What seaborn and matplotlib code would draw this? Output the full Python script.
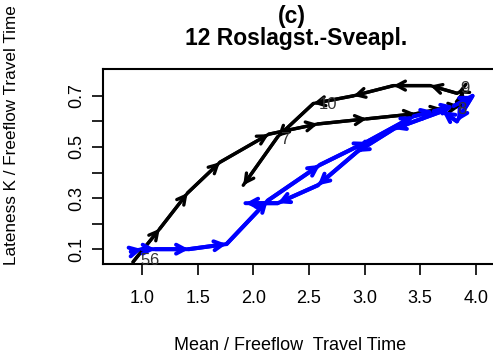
import numpy as np
import pandas as pd
import matplotlib
matplotlib.use("Agg")
import matplotlib.pyplot as plt
import seaborn as sns

# ---- data ----
black_x = [0.92, 1.16, 1.41, 1.70, 2.14, 2.58, 3.02, 3.46, 3.70, 3.86, 3.88, 3.83, 3.59, 3.26, 2.90, 2.54, 2.22, 1.91]
black_y = [0.05, 0.18, 0.32, 0.44, 0.55, 0.59, 0.61, 0.63, 0.65, 0.66, 0.72, 0.71, 0.74, 0.74, 0.70, 0.67, 0.54, 0.35]
blue_x = [0.90, 1.00, 1.12, 1.42, 1.76, 2.13, 2.60, 3.02, 3.44, 3.62, 3.80, 3.97, 3.83, 3.70, 3.26, 2.93, 2.58, 2.22, 1.93]
blue_y = [0.09, 0.10, 0.10, 0.10, 0.12, 0.29, 0.43, 0.52, 0.62, 0.64, 0.66, 0.70, 0.60, 0.64, 0.57, 0.48, 0.35, 0.28, 0.28]
hour_labels = ["5", "6", "7", "8", "9", "10"]
hour_x = [1.03, 1.11, 2.28, 3.87, 3.90, 2.67]
hour_y = [0.055, 0.055, 0.53, 0.645, 0.73, 0.665]
x_ticks = [1.0, 1.5, 2.0, 2.5, 3.0, 3.5, 4.0]
y_ticks = [0.1, 0.2, 0.3, 0.4, 0.5, 0.6, 0.7]
y_ticklabels = ["0.1", "", "0.3", "", "0.5", "", "0.7"]
title_top = "(c)"
title_main = "12 Roslagst.-Sveapl."
xlabel = "Mean / Freeflow  Travel Time"
ylabel = "Lateness K / Freeflow Travel Time"

sns.set_style("white")
plt.rcParams['font.family'] = ['Liberation Sans', 'DejaVu Sans']
plt.rcParams['text.color'] = 'black'
plt.rcParams['xtick.color'] = 'black'
plt.rcParams['ytick.color'] = 'black'

W, H = 493, 357
fig = plt.figure(figsize=(W / 100, H / 100), dpi=100)
x0, x1 = 0.65, 4.35
y0, y1 = 0.042, 0.805
left_px, top_px, bot_px = 103, 69, 264
px_per_x = 111.3
width_px = (x1 - x0) * px_per_x
ax = fig.add_axes([left_px / W, 1 - bot_px / H, width_px / W, (bot_px - top_px) / H])

df_b = pd.DataFrame({"x": black_x, "y": black_y})
df_u = pd.DataFrame({"x": blue_x, "y": blue_y})
sns.lineplot(data=df_b, x="x", y="y", sort=False, estimator=None, color="black", lw=2.4, ax=ax)
sns.lineplot(data=df_u, x="x", y="y", sort=False, estimator=None, color="#0000ff", lw=2.9, ax=ax)

def arrows(xs, ys, color, lw):
    for i in range(len(xs) - 1):
        ax.annotate("", xy=(xs[i + 1], ys[i + 1]), xytext=(xs[i], ys[i]),
                    arrowprops=dict(arrowstyle="->,head_length=0.6,head_width=0.32",
                                    color=color, lw=lw, shrinkA=0, shrinkB=0))

arrows(black_x, black_y, "black", 2.4)
arrows(blue_x, blue_y, "#0000ff", 2.9)

for t, hx, hy in zip(hour_labels, hour_x, hour_y):
    ax.text(hx, hy, t, fontsize=12, color="#333333", ha="center", va="center")

ax.set_xlim(x0, x1)
ax.set_ylim(y0, y1)
ax.set_xticks(x_ticks)
ax.set_xticklabels([f"{v:.1f}" for v in x_ticks], fontsize=13, color="black")
ax.set_yticks(y_ticks)
ax.set_yticklabels(y_ticklabels, fontsize=13, rotation=90, va="center", color="black")
ax.tick_params(axis="both", direction="out", length=8, width=1.2, color="black", bottom=True, left=True)
ax.tick_params(axis="x", pad=11)
ax.tick_params(axis="y", pad=5)
ax.set_xlabel("")
ax.set_ylabel("")
for s in ["left", "top", "bottom"]:
    ax.spines[s].set_color("black")
    ax.spines[s].set_linewidth(1.5)
ax.spines["right"].set_visible(False)

fig.text(292 / W, 1 - 17 / H, title_top, ha="center", va="center", fontsize=16.5, fontweight="bold", color="black")
fig.text(296 / W, 1 - 38 / H, title_main, ha="center", va="center", fontsize=16.5, fontweight="bold", color="black")
fig.text(290 / W, 1 - 345 / H, xlabel, ha="center", va="center", fontsize=13, color="black")
fig.text(12 / W, 1 - 135 / H, ylabel, ha="center", va="center", fontsize=12.3, rotation=90, color="black")

fig.savefig("out.png", dpi=100)
